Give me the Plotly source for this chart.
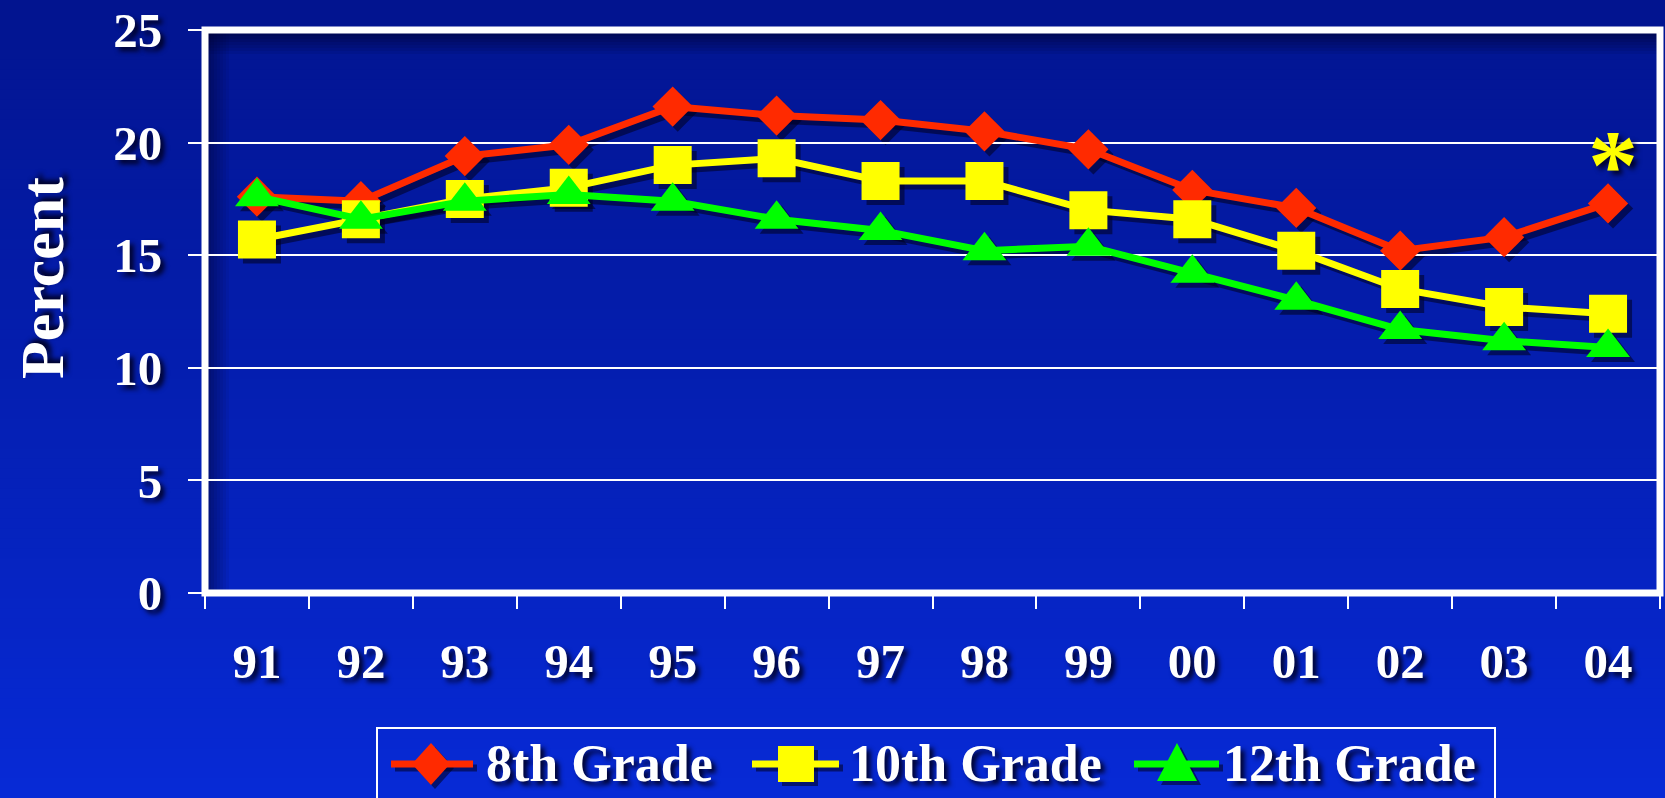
import plotly.graph_objects as go

# ---------------- data ----------------
years = ["91", "92", "93", "94", "95", "96", "97", "98", "99", "00", "01", "02", "03", "04"]
grade8 = [17.6, 17.4, 19.4, 19.9, 21.6, 21.2, 21.0, 20.5, 19.7, 17.9, 17.1, 15.2, 15.8, 17.3]
grade10 = [15.7, 16.6, 17.5, 18.0, 19.0, 19.3, 18.3, 18.3, 17.0, 16.6, 15.2, 13.5, 12.7, 12.4]
grade12 = [17.6, 16.6, 17.4, 17.7, 17.4, 16.6, 16.1, 15.2, 15.4, 14.2, 13.0, 11.7, 11.2, 10.9]
series_names = ["8th Grade", "10th Grade", "12th Grade"]
y_ticks = [0, 5, 10, 15, 20, 25]
y_title = "Percent"

# ---------------- styling ----------------
colors = ["#FF2A00", "#FFFF00", "#00FF00"]
symbols = ["diamond", "square", "triangle-up"]
msizes = [31, 38, 38]
FONT = "Liberation Serif"
TSHADOW = "4px 4px 5px rgba(0,0,35,0.95)"
SHADOW_COL = "rgba(0,0,30,0.55)"

FW, FH = 1665, 798
L, T, W, H = 205, 30, 1460, 568   # plot area, in screen pixels
OFF = 5


def px(X):   # screen x -> paper
    return (X - L) / W


def py(Y):   # screen y -> paper
    return (T + H - Y) / H


fig = go.Figure()
all_series = [grade8, grade10, grade12]

# shadow traces (drawn on a subplot shifted a few pixels right / down)
for vals, sym, ms in zip(all_series, symbols, msizes):
    fig.add_trace(go.Scatter(
        x=years, y=vals, xaxis="x", yaxis="y", mode="lines+markers",
        line=dict(color=SHADOW_COL, width=7),
        marker=dict(symbol=sym, size=ms, color=SHADOW_COL, line=dict(width=0)),
        showlegend=False, hoverinfo="skip"))

# main traces
for name, vals, col, sym, ms in zip(series_names, all_series, colors, symbols, msizes):
    fig.add_trace(go.Scatter(
        x=years, y=vals, xaxis="x2", yaxis="y2", mode="lines+markers", name=name,
        line=dict(color=col, width=7),
        marker=dict(symbol=sym, size=ms, color=col, line=dict(width=0)),
        showlegend=False))

# ---------------- background gradient ----------------
shapes = []
top_rgb = (2, 20, 143)
bot_rgb = (7, 42, 214)
N = 80
for i in range(N):
    f = (i + 0.5) / N
    c = tuple(int(round(a + (b - a) * f)) for a, b in zip(top_rgb, bot_rgb))
    y0 = FH * i / N
    y1 = FH * (i + 1) / N + 1
    shapes.append(dict(type="rect", xref="paper", yref="paper", layer="below",
                       x0=px(-10), x1=px(FW + 10), y0=py(y0), y1=py(y1),
                       line=dict(width=0), fillcolor="rgb(%d,%d,%d)" % c))

# inner shadow of the plot frame (top and left)
for i in range(7):
    a = 0.55 * (1 - i / 7)
    shapes.append(dict(type="rect", xref="paper", yref="paper", layer="below",
                       x0=px(205), x1=px(1660), y0=py(33 + 3 * i), y1=py(36 + 3 * i),
                       line=dict(width=0), fillcolor="rgba(0,0,40,%.3f)" % a))
    shapes.append(dict(type="rect", xref="paper", yref="paper", layer="below",
                       x0=px(208 + 3 * i), x1=px(211 + 3 * i), y0=py(593), y1=py(33),
                       line=dict(width=0), fillcolor="rgba(0,0,40,%.3f)" % (a * 0.8)))

# plot frame
shapes.append(dict(type="rect", xref="x2 domain", yref="y2 domain", x0=0, x1=1, y0=0, y1=1,
                   line=dict(color="white", width=7), layer="above"))

# ---------------- custom legend ----------------
LEG_Y = 764
shapes.append(dict(type="rect", xref="paper", yref="paper", x0=px(377), x1=px(1495),
                   y0=py(820), y1=py(728), line=dict(color="white", width=2), layer="above"))
legend_items = [(391, 473, 431, 484), (752, 839, 796, 847), (1134, 1219, 1177, 1221)]


def glyph_path(kind, cx, cy, dx=0, dy=0):
    cx += dx
    cy += dy
    if kind == "diamond":
        pts = [(cx - 19, cy), (cx, cy - 21), (cx + 19, cy), (cx, cy + 21)]
    elif kind == "square":
        pts = [(cx - 18, cy - 18), (cx + 18, cy - 18), (cx + 18, cy + 18), (cx - 18, cy + 18)]
    else:
        pts = [(cx - 20, cy + 17), (cx, cy - 21), (cx + 20, cy + 17)]
    return "M " + " L ".join("%.5f,%.5f" % (px(a), py(b)) for a, b in pts) + " Z"


annotations = []
for (lx0, lx1, gcx, tx), name, col, sym in zip(legend_items, series_names, colors, symbols):
    shapes.append(dict(type="line", xref="paper", yref="paper", x0=px(lx0 + 4), x1=px(lx1 + 4),
                       y0=py(LEG_Y + 4), y1=py(LEG_Y + 4), line=dict(color=SHADOW_COL, width=7),
                       layer="above"))
    shapes.append(dict(type="path", xref="paper", yref="paper",
                       path=glyph_path(sym, gcx, LEG_Y, 4, 4), fillcolor=SHADOW_COL,
                       line=dict(width=0), layer="above"))
    shapes.append(dict(type="line", xref="paper", yref="paper", x0=px(lx0), x1=px(lx1),
                       y0=py(LEG_Y), y1=py(LEG_Y), line=dict(color=col, width=7), layer="above"))
    shapes.append(dict(type="path", xref="paper", yref="paper", path=glyph_path(sym, gcx, LEG_Y),
                       fillcolor=col, line=dict(width=0), layer="above"))
    annotations.append(dict(text=name, xref="paper", yref="paper", x=px(tx), y=py(LEG_Y - 1),
                            xanchor="left", yanchor="middle", showarrow=False,
                            font=dict(family=FONT, size=52, color="white", weight="bold",
                                      shadow=TSHADOW)))

# y axis title
annotations.append(dict(text=y_title, xref="paper", yref="paper", x=px(42), y=py(278),
                        xanchor="center", yanchor="middle", textangle=-90, showarrow=False,
                        font=dict(family=FONT, size=62, color="white", weight="bold",
                                  shadow=TSHADOW)))
# asterisk above the last 8th grade point
annotations.append(dict(text="*", xref="x2", yref="paper", x=len(years) - 1, y=py(165),
                        xanchor="center", yanchor="middle", xshift=5, showarrow=False,
                        font=dict(family=FONT, size=100, color="#FFFF00", weight="bold",
                                  shadow=TSHADOW)))

tickfont = dict(family=FONT, size=49, color="white", weight="bold", shadow=TSHADOW)

fig.update_layout(
    width=FW, height=FH,
    margin=dict(l=L, r=FW - L - W, t=T, b=FH - T - H, autoexpand=False),
    paper_bgcolor="rgb(2,20,143)",
    plot_bgcolor="rgba(0,0,0,0)",
    showlegend=False,
    shapes=shapes,
    annotations=annotations,
    xaxis=dict(domain=[OFF / W, 1], anchor="y", type="category", categoryorder="array",
               categoryarray=years, range=[-0.5, len(years) - 0.5], visible=False),
    yaxis=dict(domain=[0, (H - OFF) / H], anchor="x", range=[0, 25], visible=False),
    xaxis2=dict(domain=[0, (W - OFF) / W], anchor="y2", type="category", categoryorder="array",
                categoryarray=years, range=[-0.5, len(years) - 0.5], tickson="boundaries",
                ticks="outside", ticklen=15, tickwidth=2, tickcolor="white", showgrid=False,
                showline=False, zeroline=False, tickfont=tickfont, ticklabelstandoff=35,
                ticklabeloverflow="allow"),
    yaxis2=dict(domain=[OFF / H, 1], anchor="x2", range=[0, 25], tickvals=y_ticks,
                ticks="outside", ticklen=16, tickwidth=2, tickcolor="white", showgrid=True,
                gridcolor="white", gridwidth=2, zeroline=False, showline=False,
                tickfont=tickfont, ticklabelstandoff=16, ticklabeloverflow="allow"),
)

fig.write_html(
    "out.html",
    config={"displayModeBar": False},
    post_script="document.body.style.margin='0px';"
                "document.body.style.overflow='hidden';"
                "document.body.style.background='rgb(2,20,143)';",
)
